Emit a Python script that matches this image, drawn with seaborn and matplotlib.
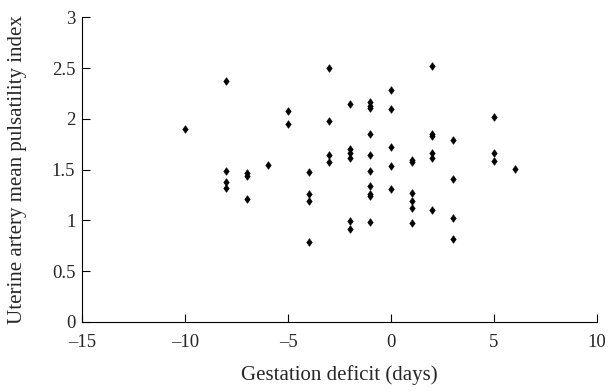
import pandas as pd
import matplotlib.pyplot as plt
import seaborn as sns

# gestation deficit (days) and uterine artery mean PI
deficit = [-10,
           -8, -8, -8, -8,
           -7, -7, -7,
           -6,
           -5, -5,
           -4, -4, -4, -4,
           -3, -3, -3, -3,
           -2, -2, -2, -2, -2, -2,
           -1, -1, -1, -1, -1, -1, -1, -1, -1, -1,
           0, 0, 0, 0, 0,
           1, 1, 1, 1, 1, 1,
           2, 2, 2, 2, 2, 2,
           3, 3, 3, 3,
           5, 5, 5,
           6]
pulsatility = [1.90,
               2.37, 1.49, 1.375, 1.32,
               1.47, 1.44, 1.21,
               1.545,
               2.08, 1.945,
               1.476, 1.263, 1.188, 0.787,
               2.50, 1.98, 1.647, 1.575,
               2.15, 1.707, 1.668, 1.612, 0.994, 0.918,
               2.163, 2.13, 2.107, 1.847, 1.64, 1.49, 1.34, 1.263, 1.24, 0.987,
               2.28, 2.10, 1.725, 1.54, 1.305,
               1.598, 1.578, 1.273, 1.188, 1.122, 0.975,
               2.523, 1.85, 1.83, 1.668, 1.61, 1.105,
               1.795, 1.407, 1.02, 0.82,
               2.015, 1.668, 1.59,
               1.505]

x_ticks = [-15, -10, -5, 0, 5, 10]
y_ticks = [0, 0.5, 1, 1.5, 2, 2.5, 3]

df = pd.DataFrame({"deficit": deficit, "pi": pulsatility})

sns.set_style("ticks")
plt.rcParams['font.family'] = ['Liberation Serif', 'DejaVu Serif']

# slightly narrow diamond like the original symbols
diamond = [(0, 1), (0.72, 0), (0, -1), (-0.72, 0), (0, 1)]

fig = plt.figure(figsize=(6.16, 3.91), dpi=100)
ax = fig.add_axes([0.1336, 0.1765, 0.8354, 0.7792])

sns.scatterplot(data=df, x="deficit", y="pi", marker=diamond, s=30,
                color="black", edgecolor="black", linewidth=0.4, ax=ax)

ax.set_xlim(-15, 10)
ax.set_ylim(0, 3)
ax.set_xticks(x_ticks)
ax.set_yticks(y_ticks)
ax.set_xticklabels([f"{t}".replace("-", "\u2013") for t in x_ticks])
ax.set_yticklabels([f"{t:g}" for t in y_ticks])
ax.tick_params(direction="in", length=6, width=0.8, labelsize=13.5, color="black")
ax.tick_params(axis="x", pad=8.5)
ax.tick_params(axis="y", pad=5)
for side in ["top", "right"]:
    ax.spines[side].set_visible(False)
for side in ["left", "bottom"]:
    ax.spines[side].set_linewidth(0.8)
    ax.spines[side].set_color("black")

ax.set_xlabel("Gestation deficit (days)", fontsize=15)
ax.set_ylabel("Uterine artery mean pulsatility index", fontsize=15)
ax.xaxis.set_label_coords(0.5, -0.14)
ax.yaxis.set_label_coords(-0.108, 0.5)

fig.savefig("out.png", dpi=100)
